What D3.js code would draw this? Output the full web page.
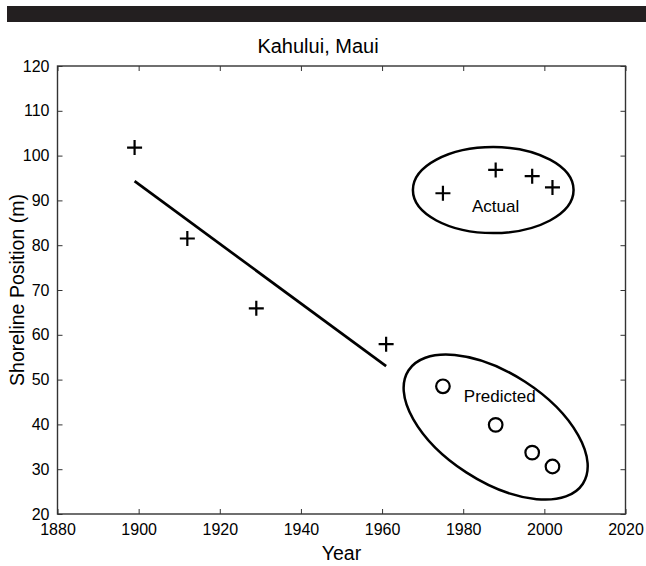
<!DOCTYPE html>
<html>
<head>
<meta charset="utf-8">
<script src="https://cdn.jsdelivr.net/npm/d3@7"></script>
<style>
  html, body { margin: 0; padding: 0; background: #fff; }
  svg { display: block; font-family: "Liberation Sans", Arial, Helvetica, sans-serif; }
</style>
</head>
<body>
<svg id="chart" width="646" height="566"></svg>
<script>
// ---- data ----
const title = "Kahului, Maui";
const xLabel = "Year";
const yLabel = "Shoreline Position (m)";
const xTicks = [1880, 1900, 1920, 1940, 1960, 1980, 2000, 2020];
const yTicks = [20, 30, 40, 50, 60, 70, 80, 90, 100, 110, 120];

const historicYears = [1899, 1912, 1929, 1961];
const historicPos   = [101.8, 81.5, 65.9, 57.9];

const actualYears = [1975, 1988, 1997, 2002];
const actualPos   = [91.6, 96.8, 95.4, 92.9];

const predictedYears = [1975, 1988, 1997, 2002];
const predictedPos   = [48.5, 39.9, 33.7, 30.6];

const trendYears = [1899, 1961];
const trendPos   = [94.3, 53.0];

// annotation ellipses and labels
const actualEllipse = { cx: 1987.4, cy: 92.3, rx: 19.8, ry: 9.6 };
const predictedEllipse = { cx: 1988.0, cy: 39.4, a: 104, b: 54, angleDeg: 33 }; // a,b in px
const ellipseLabels = [
  { text: "Actual", x: 1988.0, y: 87.3 },
  { text: "Predicted", x: 1989.0, y: 44.9 }
];

// ---- layout ----
const svg = d3.select("#chart");
const W = 646, H = 566;
const m = { left: 57.5, right: 20.5, top: 66, bottom: 52 };
const x = d3.scaleLinear().domain([1880, 2020]).range([m.left, W - m.right]);
const y = d3.scaleLinear().domain([20, 120]).range([H - m.bottom, m.top]);

// top black bar
svg.append("rect").attr("x", 7).attr("y", 6).attr("width", 639).attr("height", 16).attr("fill", "#231f20");

// title
svg.append("text").attr("x", 318).attr("y", 53).attr("text-anchor", "middle")
  .attr("font-size", 20).attr("fill", "#000").text(title);

const axisColor = "#333";
const tickLen = 5;
const g = svg.append("g");

// frame
g.append("rect").attr("x", x(1880)).attr("y", y(120))
  .attr("width", x(2020) - x(1880)).attr("height", y(20) - y(120))
  .attr("fill", "none").attr("stroke", axisColor).attr("stroke-width", 1.4);

// axes with inward ticks
const xAxisB = d3.axisBottom(x).tickValues(xTicks).tickSize(-tickLen).tickPadding(10).tickFormat(d3.format("d"));
const xAxisT = d3.axisTop(x).tickValues(xTicks).tickSize(-tickLen).tickFormat("");
const yAxisL = d3.axisLeft(y).tickValues(yTicks).tickSize(-tickLen).tickPadding(8);
const yAxisR = d3.axisRight(y).tickValues(yTicks).tickSize(-tickLen).tickFormat("");

function styleAxis(sel) {
  sel.select(".domain").remove();
  sel.selectAll(".tick line").attr("stroke", axisColor).attr("stroke-width", 1);
  sel.selectAll(".tick text").attr("fill", "#000").attr("font-size", 16)
    .attr("font-family", "'Liberation Sans', Arial, sans-serif");
}
g.append("g").attr("transform", `translate(0,${y(20)})`).call(xAxisB).call(styleAxis);
g.append("g").attr("transform", `translate(0,${y(120)})`).call(xAxisT).call(styleAxis);
g.append("g").attr("transform", `translate(${x(1880)},0)`).call(yAxisL).call(styleAxis);
g.append("g").attr("transform", `translate(${x(2020)},0)`).call(yAxisR).call(styleAxis);

// axis labels
svg.append("text").attr("x", (x(1880) + x(2020)) / 2).attr("y", 560).attr("text-anchor", "middle")
  .attr("font-size", 19.5).attr("fill", "#000").text(xLabel);
svg.append("text").attr("transform", `translate(24,${(y(20) + y(120)) / 2}) rotate(-90)`)
  .attr("text-anchor", "middle").attr("font-size", 19.5).attr("fill", "#000").text(yLabel);

// trend line
const line = d3.line().x(d => x(d[0])).y(d => y(d[1]));
svg.append("path").datum(d3.zip(trendYears, trendPos)).attr("d", line)
  .attr("fill", "none").attr("stroke", "#000").attr("stroke-width", 2.7);

// crosses
const cs = 7.5;
function crosses(years, pos) {
  const pts = d3.zip(years, pos);
  const gg = svg.append("g").attr("stroke", "#000").attr("stroke-width", 2.2);
  gg.selectAll("path").data(pts).join("path")
    .attr("d", d => `M${x(d[0]) - cs},${y(d[1])}H${x(d[0]) + cs}M${x(d[0])},${y(d[1]) - cs}V${y(d[1]) + cs}`);
}
crosses(historicYears, historicPos);
crosses(actualYears, actualPos);

// circles
svg.append("g").selectAll("circle").data(d3.zip(predictedYears, predictedPos)).join("circle")
  .attr("cx", d => x(d[0])).attr("cy", d => y(d[1])).attr("r", 6.8)
  .attr("fill", "none").attr("stroke", "#000").attr("stroke-width", 2.2);

// ellipses
const ae = actualEllipse;
svg.append("ellipse").attr("cx", x(ae.cx)).attr("cy", y(ae.cy))
  .attr("rx", x(ae.cx + ae.rx) - x(ae.cx)).attr("ry", y(ae.cy) - y(ae.cy + ae.ry))
  .attr("fill", "none").attr("stroke", "#000").attr("stroke-width", 2.5);
const pe = predictedEllipse;
svg.append("ellipse").attr("cx", 0).attr("cy", 0).attr("rx", pe.a).attr("ry", pe.b)
  .attr("transform", `translate(${x(pe.cx)},${y(pe.cy)}) rotate(${pe.angleDeg})`)
  .attr("fill", "none").attr("stroke", "#000").attr("stroke-width", 2.5);

// labels
svg.append("g").selectAll("text").data(ellipseLabels).join("text")
  .attr("x", d => x(d.x)).attr("y", d => y(d.y)).attr("text-anchor", "middle")
  .attr("font-size", 17).attr("fill", "#000").text(d => d.text);
</script>
</body>
</html>
